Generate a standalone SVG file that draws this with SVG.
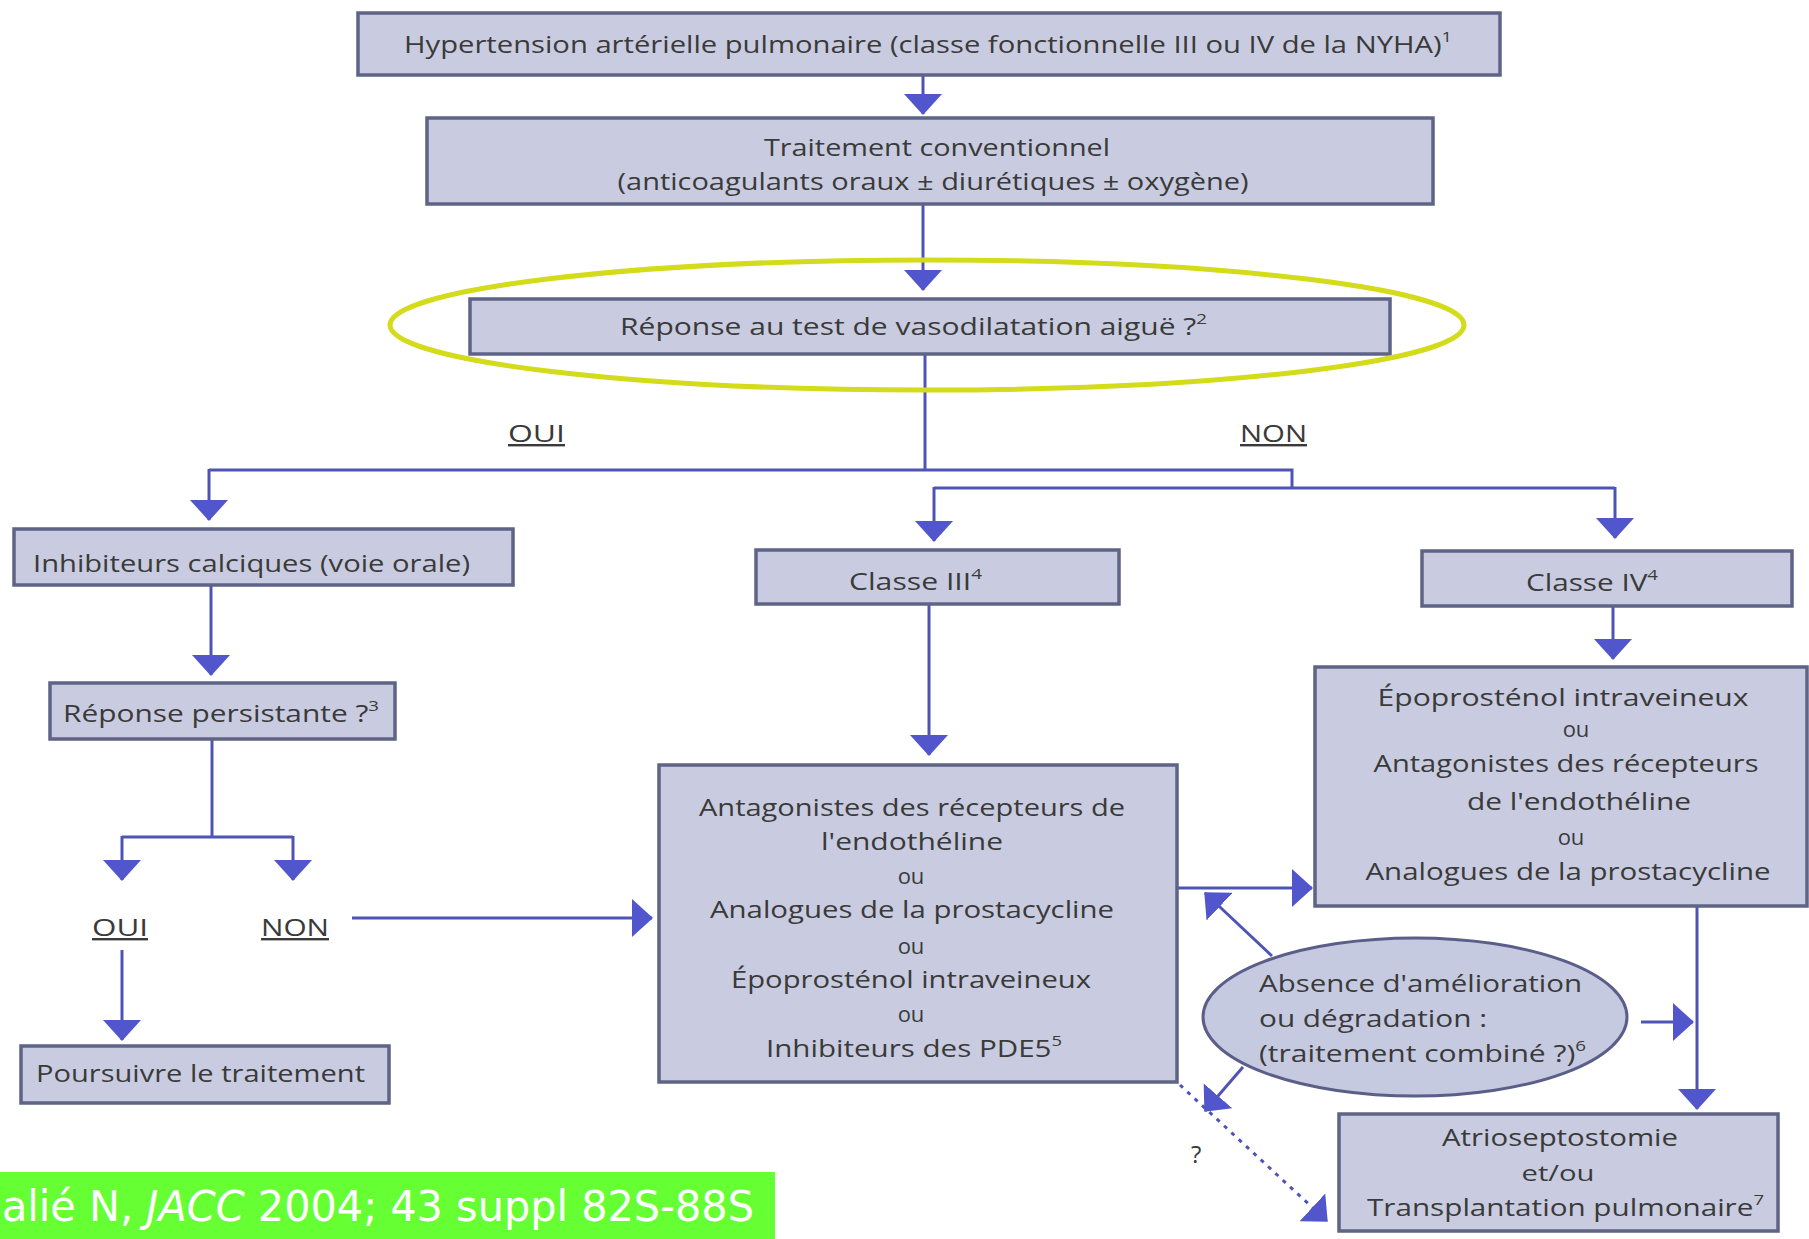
<svg xmlns="http://www.w3.org/2000/svg" width="1809" height="1239" viewBox="0 0 1809 1239">
<defs>
<style>
.box{fill:#c9cce0;stroke:#5f6386;stroke-width:3.5}
.t{font-family:"Open Sans","Noto Sans","DejaVu Sans",sans-serif;font-size:24px;fill:#3a3a3a}
.o{font-size:22px}
.c{text-anchor:middle}
.sup{font-size:15px}
.ln{fill:none;stroke:#4e54b4;stroke-width:3}
.ar{marker-end:url(#ah)}
.u{text-decoration:underline;text-decoration-thickness:4px}
</style>
<marker id="ah" viewBox="0 0 21 38" refX="20" refY="19" markerWidth="21" markerHeight="38" markerUnits="userSpaceOnUse" orient="auto">
<path d="M0,0 L21,19 L0,38 Z" fill="#5256cc"/>
</marker>
</defs>
<rect width="1809" height="1239" fill="#ffffff"/>

<g id="connectors">
<line class="ln ar" x1="923" y1="75" x2="923" y2="114"/>
<line class="ln ar" x1="923" y1="204" x2="923" y2="290"/>
<polyline class="ln" points="925,354 925,470"/>
<polyline class="ln" points="209,470 1292,470 1292,488"/>
<polyline class="ln" points="934,488 1615,488"/>
<line class="ln ar" x1="209" y1="469" x2="209" y2="520"/>
<line class="ln ar" x1="934" y1="487" x2="934" y2="541"/>
<line class="ln ar" x1="1615" y1="487" x2="1615" y2="538"/>
<line class="ln ar" x1="211" y1="585" x2="211" y2="675"/>
<polyline class="ln" points="212,739 212,837"/>
<polyline class="ln" points="122,837 293,837"/>
<line class="ln ar" x1="122" y1="836" x2="122" y2="880"/>
<line class="ln ar" x1="293" y1="836" x2="293" y2="880"/>
<line class="ln ar" x1="122" y1="950" x2="122" y2="1040"/>
<line class="ln ar" x1="352" y1="918" x2="652" y2="918"/>
<line class="ln ar" x1="929" y1="605" x2="929" y2="755"/>
<line class="ln ar" x1="1613" y1="607" x2="1613" y2="659"/>
<line class="ln ar" x1="1177" y1="888" x2="1312" y2="888"/>
<line class="ln ar" x1="1272" y1="956" x2="1205" y2="893"/>
<line class="ln ar" x1="1243" y1="1067" x2="1205" y2="1111"/>
<line class="ln ar" x1="1641" y1="1022" x2="1693" y2="1022"/>
<line class="ln ar" x1="1697" y1="907" x2="1697" y2="1109"/>
<line class="ln ar" x1="1180" y1="1085" x2="1327" y2="1221" stroke-dasharray="4,6"/>
</g>

<g id="n-hta">
<rect class="box" x="358" y="13" width="1142" height="62"/>
<text class="t" x="404" y="53" textLength="1048" lengthAdjust="spacingAndGlyphs">Hypertension artérielle pulmonaire (classe fonctionnelle III ou IV de la NYHA)<tspan class="sup" dy="-11">1</tspan></text>
</g>

<g id="n-trait">
<rect class="box" x="427" y="118" width="1006" height="86"/>
<text class="t c" x="937" y="156" textLength="346" lengthAdjust="spacingAndGlyphs">Traitement conventionnel</text>
<text class="t c" x="933" y="190" textLength="631" lengthAdjust="spacingAndGlyphs">(anticoagulants oraux ± diurétiques ± oxygène)</text>
</g>

<g id="n-test">
<rect class="box" x="470" y="299" width="920" height="55"/>
<text class="t" x="620" y="335" textLength="587" lengthAdjust="spacingAndGlyphs">Réponse au test de vasodilatation aiguë ?<tspan class="sup" dy="-11">2</tspan></text>
<ellipse cx="927" cy="325" rx="537" ry="65" fill="none" stroke="#d3db1a" stroke-width="5"/>
</g>

<g id="l-oui1"><text class="t u" x="508" y="442" textLength="57" lengthAdjust="spacingAndGlyphs">OUI</text></g>
<g id="l-non1"><text class="t u" x="1240" y="442" textLength="67" lengthAdjust="spacingAndGlyphs">NON</text></g>

<g id="n-inhib">
<rect class="box" x="14" y="529" width="499" height="56"/>
<text class="t" x="33" y="572" textLength="437" lengthAdjust="spacingAndGlyphs">Inhibiteurs calciques (voie orale)</text>
</g>

<g id="n-persist">
<rect class="box" x="50" y="683" width="345" height="56"/>
<text class="t" x="63" y="722" textLength="316" lengthAdjust="spacingAndGlyphs">Réponse persistante ?<tspan class="sup" dy="-11">3</tspan></text>
</g>

<g id="l-oui2"><text class="t u" x="92" y="936" textLength="56" lengthAdjust="spacingAndGlyphs">OUI</text></g>
<g id="l-non2"><text class="t u" x="261" y="936" textLength="68" lengthAdjust="spacingAndGlyphs">NON</text></g>

<g id="n-poursuivre">
<rect class="box" x="21" y="1046" width="368" height="57"/>
<text class="t" x="36" y="1082" textLength="329" lengthAdjust="spacingAndGlyphs">Poursuivre le traitement</text>
</g>

<g id="n-classe3">
<rect class="box" x="756" y="550" width="363" height="54"/>
<text class="t" x="849" y="590" textLength="133" lengthAdjust="spacingAndGlyphs">Classe III<tspan class="sup" dy="-11">4</tspan></text>
</g>

<g id="n-classe4">
<rect class="box" x="1422" y="551" width="370" height="55"/>
<text class="t" x="1526" y="591" textLength="132" lengthAdjust="spacingAndGlyphs">Classe IV<tspan class="sup" dy="-11">4</tspan></text>
</g>

<g id="n-trait3">
<rect class="box" x="659" y="765" width="518" height="317"/>
<text class="t c" x="912" y="816" textLength="426" lengthAdjust="spacingAndGlyphs">Antagonistes des récepteurs de</text>
<text class="t c" x="912" y="850" textLength="182" lengthAdjust="spacingAndGlyphs">l'endothéline</text>
<text class="t o c" x="911" y="884">ou</text>
<text class="t c" x="912" y="918" textLength="404" lengthAdjust="spacingAndGlyphs">Analogues de la prostacycline</text>
<text class="t o c" x="911" y="954">ou</text>
<text class="t c" x="911" y="988" textLength="360" lengthAdjust="spacingAndGlyphs">Époprosténol intraveineux</text>
<text class="t o c" x="911" y="1022">ou</text>
<text class="t" x="766" y="1057" textLength="296" lengthAdjust="spacingAndGlyphs">Inhibiteurs des PDE5<tspan class="sup" dy="-11">5</tspan></text>
</g>

<g id="n-trait4">
<rect class="box" x="1315" y="667" width="492" height="239"/>
<text class="t c" x="1563" y="706" textLength="371" lengthAdjust="spacingAndGlyphs">Époprosténol intraveineux</text>
<text class="t o c" x="1576" y="737">ou</text>
<text class="t c" x="1566" y="772" textLength="385" lengthAdjust="spacingAndGlyphs">Antagonistes des récepteurs</text>
<text class="t c" x="1579" y="810" textLength="224" lengthAdjust="spacingAndGlyphs">de l'endothéline</text>
<text class="t o c" x="1571" y="845">ou</text>
<text class="t c" x="1568" y="880" textLength="405" lengthAdjust="spacingAndGlyphs">Analogues de la prostacycline</text>
</g>

<g id="n-absence">
<ellipse cx="1415" cy="1017" rx="212" ry="79" fill="#c6cae0" stroke="#5a5e88" stroke-width="3"/>
<text class="t" x="1259" y="992" textLength="323" lengthAdjust="spacingAndGlyphs">Absence d'amélioration</text>
<text class="t" x="1259" y="1027" textLength="228" lengthAdjust="spacingAndGlyphs">ou dégradation :</text>
<text class="t" x="1259" y="1062" textLength="327" lengthAdjust="spacingAndGlyphs">(traitement combiné ?)<tspan class="sup" dy="-11">6</tspan></text>
</g>

<g id="l-q"><text class="t" x="1191" y="1163">?</text></g>

<g id="n-atrio">
<rect class="box" x="1339" y="1114" width="439" height="117"/>
<text class="t c" x="1560" y="1146" textLength="236" lengthAdjust="spacingAndGlyphs">Atrioseptostomie</text>
<text class="t o c" x="1558" y="1181" textLength="73" lengthAdjust="spacingAndGlyphs">et/ou</text>
<text class="t" x="1367" y="1216" textLength="397" lengthAdjust="spacingAndGlyphs">Transplantation pulmonaire<tspan class="sup" dy="-11">7</tspan></text>
</g>

<g id="citation">
<rect x="0" y="1172" width="775" height="67" fill="#66ff33"/>
<text x="2" y="1221" font-family="'DejaVu Sans',sans-serif" font-size="42" fill="#ffffff" textLength="752" lengthAdjust="spacingAndGlyphs">alié N, <tspan font-style="italic">JACC</tspan> 2004; 43 suppl 82S-88S</text>
</g>
</svg>
